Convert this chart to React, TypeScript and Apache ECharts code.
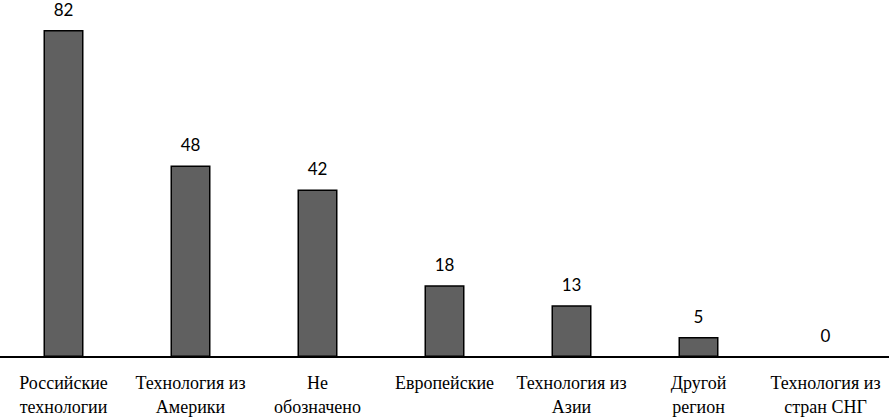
import React, { useEffect, useRef } from "react";
import * as echarts from "echarts";

const categories = [
  "Российские\nтехнологии",
  "Технология из\nАмерики",
  "Не\nобозначено",
  "Европейские",
  "Технология из\nАзии",
  "Другой\nрегион",
  "Технология из\nстран СНГ",
];
const values = [82, 48, 42, 18, 13, 5, 0];

const SERIF = "'Liberation Serif', 'Times New Roman', 'DejaVu Serif', serif";

export default function App() {
  const ref = useRef<HTMLDivElement>(null);
  useEffect(() => {
    document.body.style.margin = "0";
    const chart = echarts.init(ref.current!, null, { renderer: "svg" });
    chart.setOption({
      animation: false,
      backgroundColor: "#ffffff",
      grid: { left: 0, right: 0, top: 30, bottom: 60, containLabel: false },
      xAxis: {
        type: "category",
        data: categories,
        axisLine: { lineStyle: { color: "#000", width: 2 } },
        axisTick: { show: false },
        axisLabel: {
          interval: 0,
          margin: 14,
          color: "#000",
          fontFamily: SERIF,
          fontSize: 18,
          lineHeight: 24,
        },
      },
      yAxis: {
        type: "value",
        min: 0,
        max: 82,
        show: false,
        splitLine: { show: false },
      },
      series: [
        {
          type: "bar",
          data: values,
          barWidth: 40,
          itemStyle: { color: "#606060", borderColor: "#000", borderWidth: 1.5 },
          label: {
            show: true,
            position: "top",
            distance: 12,
            color: "#000",
            fontFamily: "Lato",
            fontSize: 17,
            lineHeight: 18,
          },
        },
      ],
    });
    return () => chart.dispose();
  }, []);
  return <div ref={ref} style={{ width: 889, height: 419 }} />;
}
